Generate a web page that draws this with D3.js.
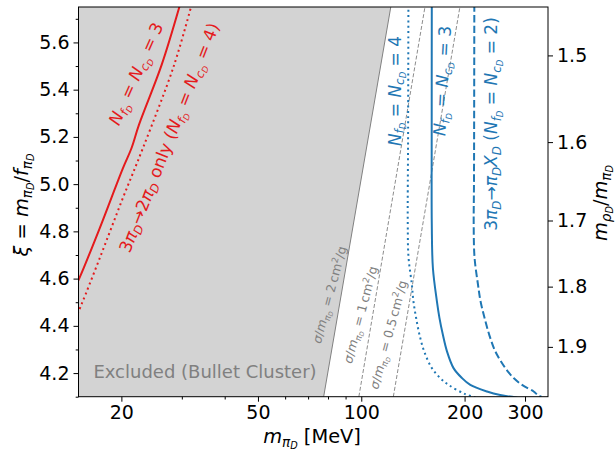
<!DOCTYPE html>
<html>
<head>
<meta charset="utf-8">
<script src="https://cdn.jsdelivr.net/npm/d3@7"></script>
<style>
  body { margin: 0; background: #fff; }
  svg { font-family: "DejaVu Sans", sans-serif; }
  text { white-space: pre; }
</style>
</head>
<body>
<svg id="chart" width="616" height="451"></svg>
<script>
// ---- data: [m_pi (MeV), xi] ----
const xTicks = [20, 50, 100, 200, 300];
const xMinor = [30, 40, 60, 70, 80, 90];
const yTicks = [4.2, 4.4, 4.6, 4.8, 5.0, 5.2, 5.4, 5.6];
const yMinor = [4.1, 4.3, 4.5, 4.7, 4.9, 5.1, 5.3, 5.5, 5.7];
// right axis m_rho/m_pi ticks and the xi each one sits at
const rightTicks = [1.5, 1.6, 1.7, 1.8, 1.9];
const rightTickXi = [5.545, 5.178, 4.846, 4.566, 4.311];

// Bullet cluster bound and sigma/m contours
const sigma2 = [[77.7, 4.1], [121.9, 5.75]];
const sigma1 = [[98.4, 4.1], [153.3, 5.75]];
const sigma05 = [[124.0, 4.1], [193.8, 5.75]];

// red: 3pi -> 2pi
const redSolid = [[14.5, 4.55], [15.1, 4.603], [17.3, 4.814], [20.2, 5.067], [21.4, 5.152],
  [22.5, 5.251], [26.2, 5.505], [29.6, 5.757]];
const redDotted = [[14.7, 4.43], [15.3, 4.49], [17.3, 4.687], [20.2, 4.941], [23.1, 5.152],
  [28.5, 5.505], [32.0, 5.757]];

// blue: 3pi -> pi X
const blueSolid = [[160.5, 5.76], [160.4, 5.2], [160.5, 4.83], [161.7, 4.645], [166.1, 4.504],
  [169.0, 4.433], [172.9, 4.362], [177.7, 4.292], [185.7, 4.221], [196.5, 4.179],
  [207.8, 4.150], [232.5, 4.122], [254, 4.107], [285, 4.096]];
const blueDotted = [[137.2, 5.76], [136.9, 5.2], [136.6, 4.83], [137.3, 4.69], [140.4, 4.575],
  [141.9, 4.504], [144.5, 4.433], [147.8, 4.362], [152.5, 4.292], [160.6, 4.221],
  [169.8, 4.179], [179.6, 4.150], [200.9, 4.111], [215, 4.098]];
const blueDashed = [[213.5, 5.76], [213.0, 5.0], [212.6, 4.83], [213.8, 4.69], [218.8, 4.575],
  [222.6, 4.504], [228.7, 4.433], [236.0, 4.362], [245.8, 4.292], [262.9, 4.221],
  [278, 4.179], [294.1, 4.150], [317.9, 4.122], [326.6, 4.107], [335, 4.1]];

const RED = "#e41a1c", BLUE = "#1f77b4", GRAY = "#808080";

const svg = d3.select("#chart");
const plotL = 78.5, plotR = 548, plotT = 7, plotB = 396.7;

const x = d3.scaleLog().domain([15, 350]).range([plotL, plotR]);
const y = d3.scaleLinear().domain([4.1, 5.75]).range([plotB, plotT]);
const ratioToXi = d3.scaleLinear().domain(rightTicks).range(rightTickXi);

svg.append("clipPath").attr("id", "clip")
  .append("rect").attr("x", plotL).attr("y", plotT)
  .attr("width", plotR - plotL).attr("height", plotB - plotT);

const plot = svg.append("g").attr("clip-path", "url(#clip)");

// excluded region
const xd = x.domain(), yd = y.domain();
const region = [[xd[0], yd[0]], ...sigma2, [xd[0], yd[1]]];
plot.append("path")
  .attr("d", d3.line().x(d => x(d[0])).y(d => y(d[1]))(region) + "Z")
  .attr("fill", "#d3d3d3");

const straight = d3.line().x(d => x(d[0])).y(d => y(d[1]));
const smooth = d3.line().x(d => x(d[0])).y(d => y(d[1])).curve(d3.curveCatmullRom.alpha(0.5));

plot.append("path").attr("d", straight(sigma2))
  .attr("fill", "none").attr("stroke", GRAY).attr("stroke-width", 1);
[sigma1, sigma05].forEach(s => {
  plot.append("path").attr("d", straight(s))
    .attr("fill", "none").attr("stroke", GRAY).attr("stroke-width", 0.9)
    .attr("stroke-dasharray", "4,2");
});

function curve(data, color, dash) {
  const p = plot.append("path").attr("d", smooth(data))
    .attr("fill", "none").attr("stroke", color).attr("stroke-width", 2);
  if (dash) p.attr("stroke-dasharray", dash);
}
curve(redSolid, RED);
curve(redDotted, RED, "2,3.3");
curve(blueSolid, BLUE);
curve(blueDotted, BLUE, "2,3.3");
curve(blueDashed, BLUE, "7.4,3.2");

// ---- rich text helper (mathtext-like sub/superscripts) ----
const LV = { 0: [0, 1], 1: [0.2, 0.7], 2: [0.33, 0.5], sup: [-0.4, 0.7] };
function mathText(g, parts, fs) {
  const t = g.append("text").attr("font-size", fs);
  let prev = 0;
  parts.forEach(p => {
    const lv = p.s || 0;
    t.append("tspan")
      .attr("dy", (LV[lv][0] - LV[prev][0]) * fs)
      .attr("font-size", fs * LV[lv][1])
      .attr("font-style", p.i ? "italic" : "normal")
      .text(p.t);
    prev = lv;
  });
  return t;
}
function label(parts, fs, cx, cy, angle, color) {
  const g = svg.append("g").attr("transform", `translate(${cx},${cy}) rotate(${angle})`);
  mathText(g, parts, fs).attr("text-anchor", "middle").attr("y", fs * 0.3).attr("fill", color);
  return g;
}

const NfNc = [{ t: "N", i: 1 }, { t: "f", i: 1, s: 1 }, { t: "D", i: 1, s: 2 }, { t: " = " },
  { t: "N", i: 1 }, { t: "c", i: 1, s: 1 }, { t: "D", i: 1, s: 2 }];
const piD = [{ t: "π", i: 1 }, { t: "D", i: 1, s: 1 }];

label([...NfNc, { t: " = 3" }], 17, 136.7, 74, -66, RED);
label([{ t: "3" }, ...piD, { t: "→2" }, ...piD, { t: " only (" }, ...NfNc, { t: " = 4)" }],
  17, 170, 138, -68.5, RED);
label([...NfNc, { t: " = 4" }], 17, 395.5, 91, -90, BLUE);
label([...NfNc, { t: " = 3" }], 17, 443, 81, -87, BLUE);
label([{ t: "3" }, ...piD, { t: "→" }, ...piD, { t: "X", i: 1 }, { t: "D", i: 1, s: 1 },
  { t: " (" }, ...NfNc, { t: " = 2)" }], 17, 492, 124, -90, BLUE);

const sig = v => [{ t: "σ", i: 1 }, { t: "/" }, { t: "m", i: 1 }, { t: "π", i: 1, s: 1 },
  { t: "D", i: 1, s: 2 }, { t: " = " + v + "\u2009cm" }, { t: "2", s: "sup" }, { t: "/g" }];
label(sig("2"), 12.5, 330, 295, -75, GRAY);
label(sig("1"), 12.5, 361, 315, -75, GRAY);
label(sig("0.5"), 12.5, 389, 335, -75, GRAY);

svg.append("text").attr("x", 205).attr("y", 378).attr("text-anchor", "middle")
  .attr("font-size", 18).attr("fill", GRAY).text("Excluded (Bullet Cluster)");

// ---- axes ----
function styleAxis(g) {
  g.select(".domain").remove();
  g.selectAll("text").attr("font-family", "DejaVu Sans").attr("font-size", 19).attr("fill", "#000");
  g.selectAll("line").attr("stroke", "#000").attr("stroke-width", 1);
}
svg.append("g").attr("transform", `translate(0,${plotB})`)
  .call(d3.axisBottom(x).tickValues(xTicks).tickFormat(d3.format("d")).tickSize(5).tickPadding(4))
  .call(styleAxis);
svg.append("g").attr("transform", `translate(0,${plotB})`)
  .call(d3.axisBottom(x).tickValues(xMinor).tickFormat("").tickSize(2.8))
  .call(styleAxis);
svg.append("g").attr("transform", `translate(${plotL},0)`)
  .call(d3.axisLeft(y).tickValues(yTicks).tickFormat(d3.format(".1f")).tickSize(5).tickPadding(4))
  .call(styleAxis);
svg.append("g").attr("transform", `translate(${plotL},0)`)
  .call(d3.axisLeft(y).tickValues(yMinor).tickFormat("").tickSize(2.8))
  .call(styleAxis);

// right axis: m_rho/m_pi placed at its xi
svg.append("g").attr("transform", `translate(${plotR},0)`)
  .call(d3.axisRight(y).tickValues(rightTicks.map(ratioToXi))
    .tickFormat((d, i) => d3.format(".1f")(rightTicks[i])).tickSize(5).tickPadding(4))
  .call(styleAxis);

svg.append("rect").attr("x", plotL).attr("y", plotT)
  .attr("width", plotR - plotL).attr("height", plotB - plotT)
  .attr("fill", "none").attr("stroke", "#000").attr("stroke-width", 1);

// axis titles
const xt = svg.append("g").attr("transform", `translate(312,443)`);
mathText(xt, [{ t: "m", i: 1 }, { t: "π", i: 1, s: 1 }, { t: "D", i: 1, s: 2 }, { t: " [MeV]" }], 19.4)
  .attr("text-anchor", "middle");

label([{ t: "ξ", i: 1 }, { t: " = " }, { t: "m", i: 1 }, { t: "π", i: 1, s: 1 }, { t: "D", i: 1, s: 2 },
  { t: "/" }, { t: "f", i: 1 }, { t: "π", i: 1, s: 1 }, { t: "D", i: 1, s: 2 }], 19.4, 22, 205, -90, "#000");

label([{ t: "m", i: 1 }, { t: "ρ", i: 1, s: 1 }, { t: "D", i: 1, s: 2 }, { t: "/" },
  { t: "m", i: 1 }, { t: "π", i: 1, s: 1 }, { t: "D", i: 1, s: 2 }], 19.4, 601, 203, -90, "#000");
</script>
</body>
</html>
